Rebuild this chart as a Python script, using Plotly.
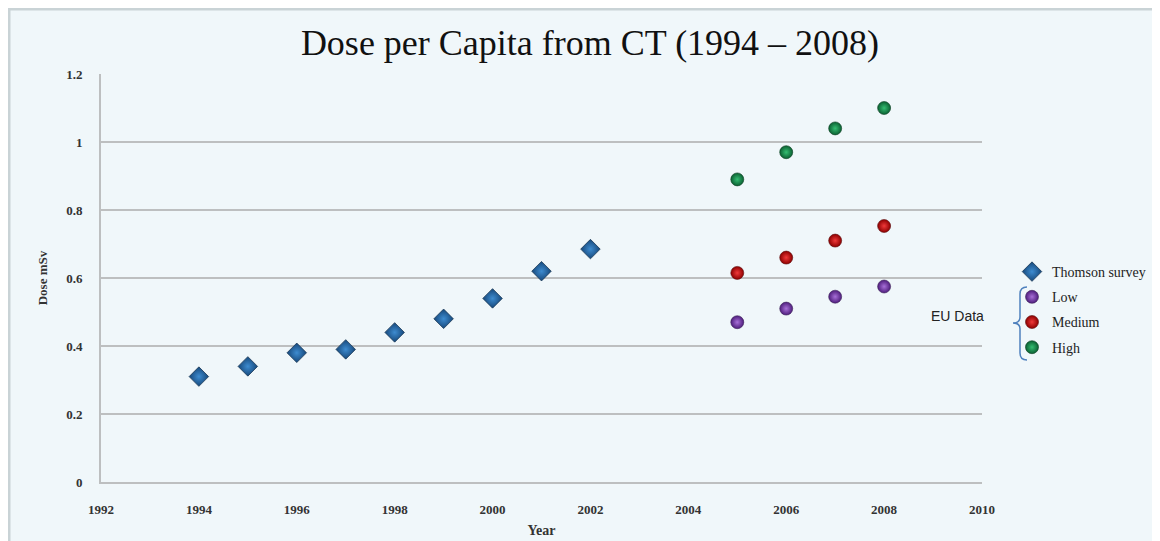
import plotly.graph_objects as go

# ---- data ----
thomson_years = [1994, 1995, 1996, 1997, 1998, 1999, 2000, 2001, 2002]
thomson_dose = [0.31, 0.34, 0.38, 0.39, 0.44, 0.48, 0.54, 0.62, 0.685]

eu_years = [2005, 2006, 2007, 2008]
eu_low = [0.47, 0.51, 0.545, 0.575]
eu_medium = [0.615, 0.66, 0.71, 0.753]
eu_high = [0.89, 0.97, 1.04, 1.10]

x_ticks = list(range(1992, 2011, 2))
y_ticks = [0, 0.2, 0.4, 0.6, 0.8, 1, 1.2]

# ---- layout geometry (pixels, page has an 8px body margin) ----
OFF = 8
W, H = 1160 - OFF, 541 - OFF
L, R, T, B = 101 - OFF, 178, 74 - OFF, 59
PW, PH = W - L - R, H - T - B


def px(x):
    return (x - OFF - L) / PW


def py(y):
    return (H - B - (y - OFF)) / PH


BG = "#F0F7FA"
GRID = "#BDBFC0"
SERIF = "Liberation Serif, DejaVu Serif, serif"

fig = go.Figure()

fig.add_trace(go.Scatter(
    x=thomson_years, y=thomson_dose, mode="markers", name="Thomson survey",
    legendgroup="a",
    marker=dict(symbol="diamond", size=15, color="#15477A",
                gradient=dict(type="radial", color="#3E8CD0"),
                line=dict(color="#1D3A55", width=0.8)),
))
fig.add_trace(go.Scatter(
    x=eu_years, y=eu_low, mode="markers", name="Low", legendgroup="b",
    marker=dict(symbol="circle", size=13, color="#4E1D7C",
                gradient=dict(type="radial", color="#A870D8"),
                line=dict(color="#3D2358", width=0.6)),
))
fig.add_trace(go.Scatter(
    x=eu_years, y=eu_medium, mode="markers", name="Medium", legendgroup="c",
    marker=dict(symbol="circle", size=13, color="#8E0000",
                gradient=dict(type="radial", color="#F03A3A"),
                line=dict(color="#5A0E0E", width=0.6)),
))
fig.add_trace(go.Scatter(
    x=eu_years, y=eu_high, mode="markers", name="High", legendgroup="d",
    marker=dict(symbol="circle", size=13, color="#0B6032",
                gradient=dict(type="radial", color="#35BE72"),
                line=dict(color="#0E3F24", width=0.6)),
))

# bracket for EU data
pts = [(1027, 287), (1020, 287), (1020, 294), (1020, 317), (1020, 323), (1013, 323),
       (1020, 323), (1020, 329), (1020, 353), (1020, 360), (1027, 360)]
p = [(px(a), py(b)) for a, b in pts]
path = (f"M {p[0][0]},{p[0][1]} Q {p[1][0]},{p[1][1]} {p[2][0]},{p[2][1]} "
        f"L {p[3][0]},{p[3][1]} Q {p[4][0]},{p[4][1]} {p[5][0]},{p[5][1]} "
        f"Q {p[6][0]},{p[6][1]} {p[7][0]},{p[7][1]} "
        f"L {p[8][0]},{p[8][1]} Q {p[9][0]},{p[9][1]} {p[10][0]},{p[10][1]}")

shapes = [
    # panel frame
    dict(type="rect", xref="paper", yref="paper", layer="below",
         x0=px(9), x1=px(1175), y0=py(560), y1=py(9),
         fillcolor=BG, line=dict(color="#C9D3D6", width=3)),
    dict(type="path", xref="paper", yref="paper", path=path,
         line=dict(color="#4F81BD", width=1.5)),
]

fig.update_layout(
    width=W, height=H,
    margin=dict(l=L, r=R, t=T, b=B, autoexpand=False),
    paper_bgcolor="white",
    plot_bgcolor="rgba(0,0,0,0)",
    title=dict(text="Dose per Capita from CT (1994 – 2008)",
               x=(590 - OFF) / W, xref="container", xanchor="center",
               y=1 - (42 - OFF) / H, yref="container", yanchor="middle",
               font=dict(family=SERIF, size=36, color="#111111")),
    showlegend=True,
    legend=dict(x=px(1012), xanchor="left", y=py(256), yanchor="top",
                bgcolor="rgba(0,0,0,0)", tracegroupgap=4,
                itemwidth=30,
                font=dict(family=SERIF, size=14, color="#222222")),
    xaxis=dict(range=[1992, 2010], tickvals=x_ticks,
               ticktext=[str(v) for v in x_ticks],
               showgrid=False, zeroline=False,
               showline=True, linecolor=GRID, linewidth=2,
               ticks="", ticklabelstandoff=14,
               tickfont=dict(family=SERIF, size=13, color="#333333", weight="bold"),
               title=dict(text="Year", standoff=10,
                          font=dict(family=SERIF, size=14, color="#333333", weight="bold"))),
    yaxis=dict(range=[0, 1.2], tickvals=y_ticks,
               ticktext=[f"{v:g}" for v in y_ticks],
               showgrid=True, gridcolor=GRID, gridwidth=2, zeroline=False,
               showline=True, linecolor=GRID, linewidth=2,
               ticks="", ticklabelstandoff=14,
               tickfont=dict(family=SERIF, size=13, color="#333333", weight="bold"),
               title=dict(text="Dose mSv", standoff=16,
                          font=dict(family=SERIF, size=13, color="#333333", weight="bold"))),
    shapes=shapes,
    annotations=[dict(text="EU Data", xref="paper", yref="paper",
                      x=px(957), y=py(316), xanchor="center", yanchor="middle",
                      showarrow=False,
                      font=dict(family="Liberation Sans, Arial, sans-serif", size=14,
                                color="#222222"))],
)

fig.write_html("out.html")
